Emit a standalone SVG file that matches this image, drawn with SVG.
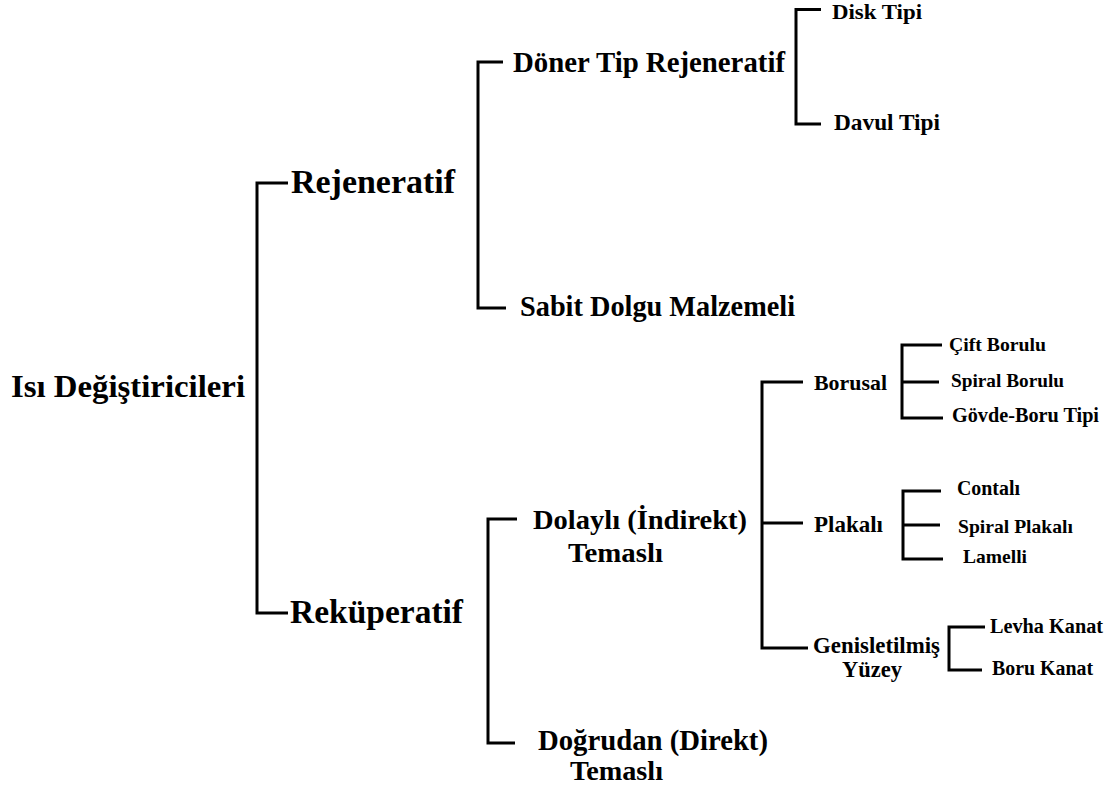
<svg xmlns="http://www.w3.org/2000/svg" width="1115" height="791" viewBox="0 0 1115 791">
<style>
.t{font-family:"Liberation Serif","Times New Roman",serif;font-weight:bold;fill:#000}
.c{fill:none;stroke:#000;stroke-width:3;stroke-linecap:butt;stroke-linejoin:miter}
</style>
<rect width="1115" height="791" fill="#fff"/>
<g id="connectors">
<path class="c" d="M288,183 H257 V613 H288"/>
<path class="c" d="M503,62 H478 V308 H506"/>
<path class="c" d="M821,9.5 H796 V124 H821"/>
<path class="c" d="M517,519 H488 V743 H515"/>
<path class="c" d="M803,382 H762 V648 H808 M762,523 H803"/>
<path class="c" d="M942,345 H902 V418 H943 M902,382 H939"/>
<path class="c" d="M941,491 H903 V559 H943 M903,525 H940"/>
<path class="c" d="M985,627 H949 V670 H982"/>
</g>
<g id="root"><text class="t" x="11" y="397" font-size="32.5" textLength="234" lengthAdjust="spacingAndGlyphs">Isı Değiştiricileri</text></g>
<g id="rejeneratif"><text class="t" x="291" y="193" font-size="33" textLength="164" lengthAdjust="spacingAndGlyphs">Rejeneratif</text></g>
<g id="rekuperatif"><text class="t" x="290" y="623" font-size="33" textLength="173" lengthAdjust="spacingAndGlyphs">Reküperatif</text></g>
<g id="doner"><text class="t" x="513" y="72" font-size="28.5" textLength="272" lengthAdjust="spacingAndGlyphs">Döner Tip Rejeneratif</text></g>
<g id="sabit"><text class="t" x="520" y="316" font-size="28.5" textLength="275" lengthAdjust="spacingAndGlyphs">Sabit Dolgu Malzemeli</text></g>
<g id="disk"><text class="t" x="832" y="19" font-size="21" textLength="90" lengthAdjust="spacingAndGlyphs">Disk Tipi</text></g>
<g id="davul"><text class="t" x="834" y="130" font-size="22.5" textLength="106" lengthAdjust="spacingAndGlyphs">Davul Tipi</text></g>
<g id="dolayli">
<text class="t" x="533" y="529" font-size="28" textLength="214" lengthAdjust="spacingAndGlyphs">Dolaylı (İndirekt)</text>
<text class="t" x="568" y="562" font-size="28" textLength="95" lengthAdjust="spacingAndGlyphs">Temaslı</text>
</g>
<g id="dogrudan">
<text class="t" x="538" y="750" font-size="28.5" textLength="230" lengthAdjust="spacingAndGlyphs">Doğrudan (Direkt)</text>
<text class="t" x="570" y="780" font-size="28" textLength="93" lengthAdjust="spacingAndGlyphs">Temaslı</text>
</g>
<g id="borusal"><text class="t" x="814" y="390" font-size="22" textLength="73" lengthAdjust="spacingAndGlyphs">Borusal</text></g>
<g id="plakali"><text class="t" x="814" y="532" font-size="22.5" textLength="69" lengthAdjust="spacingAndGlyphs">Plakalı</text></g>
<g id="genisletilmis">
<text class="t" x="813" y="653" font-size="22.5" textLength="127" lengthAdjust="spacingAndGlyphs">Genisletilmiş</text>
<text class="t" x="842" y="677" font-size="22.5" textLength="60" lengthAdjust="spacingAndGlyphs">Yüzey</text>
</g>
<g id="cift-borulu"><text class="t" x="949" y="351" font-size="19.5" textLength="97" lengthAdjust="spacingAndGlyphs">Çift Borulu</text></g>
<g id="spiral-borulu"><text class="t" x="951" y="387" font-size="19.5" textLength="113" lengthAdjust="spacingAndGlyphs">Spiral Borulu</text></g>
<g id="govde-boru"><text class="t" x="952" y="422" font-size="20" textLength="147" lengthAdjust="spacingAndGlyphs">Gövde-Boru Tipi</text></g>
<g id="contali"><text class="t" x="957" y="495" font-size="20" textLength="63" lengthAdjust="spacingAndGlyphs">Contalı</text></g>
<g id="spiral-plakali"><text class="t" x="958" y="533" font-size="19.5" textLength="115" lengthAdjust="spacingAndGlyphs">Spiral Plakalı</text></g>
<g id="lamelli"><text class="t" x="963" y="563" font-size="19.5" textLength="64" lengthAdjust="spacingAndGlyphs">Lamelli</text></g>
<g id="levha-kanat"><text class="t" x="990" y="633" font-size="20" textLength="113" lengthAdjust="spacingAndGlyphs">Levha Kanat</text></g>
<g id="boru-kanat"><text class="t" x="992" y="675" font-size="20" textLength="101" lengthAdjust="spacingAndGlyphs">Boru Kanat</text></g>
</svg>
